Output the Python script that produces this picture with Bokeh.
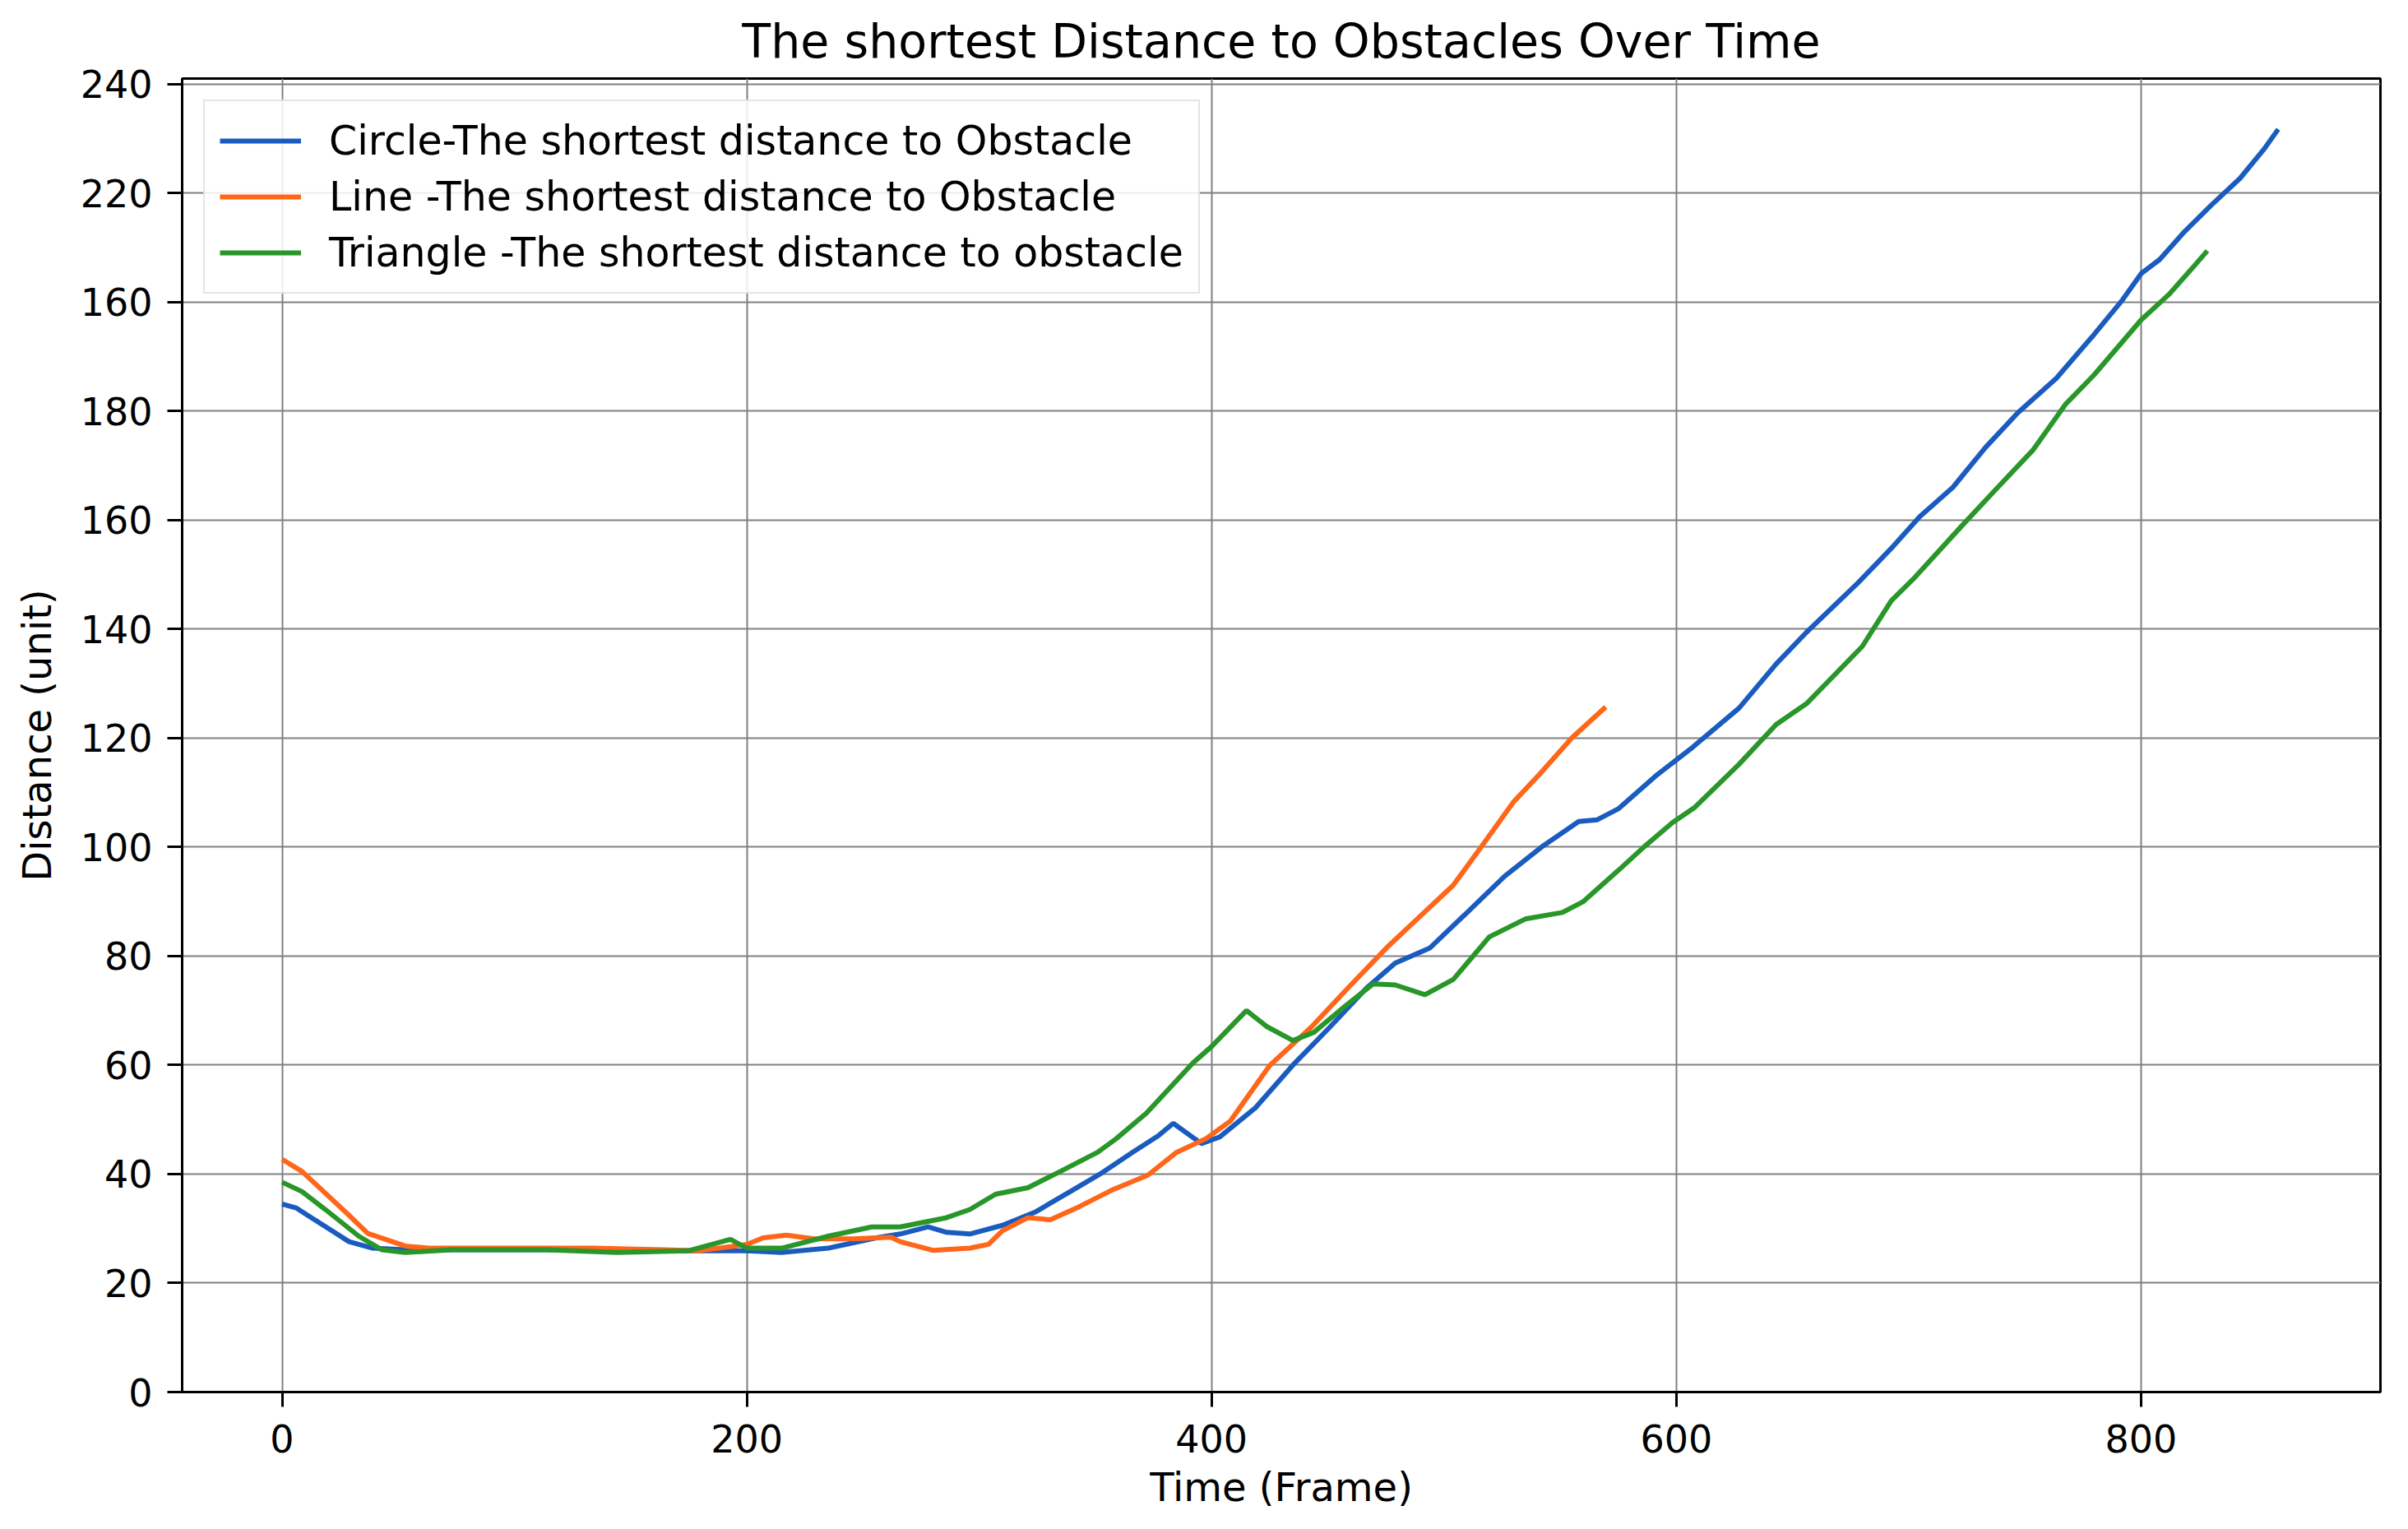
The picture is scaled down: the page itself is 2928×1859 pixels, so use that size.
from bokeh.plotting import figure
from bokeh.models import FixedTicker
from bokeh.embed import file_html
from bokeh.resources import INLINE

# ---- data ----
circle_x = [0, 6, 12.6, 20, 28.8, 39, 53, 80, 114, 150, 174.7, 200, 215, 235, 255.7, 266, 278, 286, 296, 310,
            324, 340, 352, 366, 377, 383.5, 395.6, 403.5, 419, 435, 451, 466.6, 479, 494, 510, 526, 542, 558,
            566, 575, 591, 607, 627, 643, 656, 678, 692.5, 704.7, 719, 733, 747, 763.5, 779.7, 792, 800, 808,
            818, 830.5, 842.6, 852.8, 859]
circle_y = [34.5, 33.8, 32, 30, 27.6, 26.4, 26.1, 26.1, 26.1, 26.0, 25.9, 25.9, 25.6, 26.4, 28.3, 29, 30.3, 29.3, 29, 30.6,
            33, 37, 40, 44, 47, 49.3, 45.6, 46.8, 52.2, 60, 67, 74.1, 78.7, 81.5, 88, 94.6, 100, 104.7,
            105, 107, 113, 118.3, 125.5, 133.6, 139.4, 148.4, 154.8, 160.6, 166, 173.3, 179.7, 186, 194, 200.4, 205.2, 207.8,
            212.6, 217.9, 222.7, 228, 231.7]

line_x = [0, 8.5, 18.6, 28.4, 36.9, 53, 63, 93.6, 134, 164.5, 178.7, 195, 200, 207, 217, 229, 245.6, 262, 266,
          280, 296, 304, 310, 321, 330.6, 343, 356.8, 372.6, 385, 397.6, 408, 425, 443, 458.6, 476, 488, 504,
          516, 530, 541, 555, 569.6]
line_y = [42.7, 40.5, 36.5, 32.6, 29.1, 26.8, 26.4, 26.4, 26.4, 26.1, 25.9, 26.8, 27.1, 28.3, 28.8, 28.1, 28.1, 28.4, 27.6,
          26.0, 26.4, 27.1, 29.6, 32, 31.6, 34, 37, 39.8, 44, 46.5, 49.7, 59.9, 67, 74.1, 81.8, 86.6, 93,
          100, 108.3, 113.3, 120, 125.7]

tri_x = [0, 8.5, 18.6, 33, 43, 53, 73, 114, 144, 174.7, 190.9, 193, 200, 215, 235, 253.7, 266, 286, 296, 307,
         321, 335, 351, 359, 372, 392, 400, 415, 424, 435, 444, 458, 469.6, 479, 491.8, 504, 519.5, 535, 551,
         560, 575, 586, 598.4, 608, 627, 643, 656, 680, 692.5, 702.7, 723, 737, 753.4, 767.6, 779.7, 800, 812,
         822, 828.5]
tri_y = [38.5, 36.8, 33.5, 28.6, 26.1, 25.6, 26.1, 26.1, 25.6, 25.9, 27.8, 28, 26.4, 26.4, 28.6, 30.3, 30.3, 32, 33.5, 36.3,
         37.5, 40.5, 44, 46.5, 51.2, 60.4, 63.4, 70, 67, 64.5, 66, 71, 74.9, 74.7, 72.9, 75.7, 83.5, 86.8, 88,
         90, 95.7, 100, 104.5, 107.3, 115.2, 122.5, 126.3, 136.8, 145.2, 149.5, 159, 165.4, 172.8, 181.3, 186.6, 196.7, 201.4,
         206.2, 209.4]

series_names = ["Circle-The shortest distance to Obstacle",
                "Line -The shortest distance to Obstacle",
                "Triangle -The shortest distance to obstacle"]

x_ticks = [0, 200, 400, 600, 800]
y_ticks = [0, 20, 40, 60, 80, 100, 120, 140, 160, 180, 200, 220, 240]
y_tick_labels = ["0", "20", "40", "60", "80", "100", "120", "140", "160", "180", "160", "220", "240"]

title_text = "The shortest Distance to Obstacles Over Time"
x_label = "Time (Frame)"
y_label = "Distance (unit)"

# ---- figure ----
p = figure(width=2920, height=1852, output_backend="svg", toolbar_location=None,
           x_range=(-43, 903), y_range=(0, 241),
           min_border_left=221, min_border_right=26, min_border_top=95, min_border_bottom=160)
p.background_fill_color = "white"
p.border_fill_color = "white"
p.outline_line_color = "black"
p.outline_line_width = 3

colors = ["#1a5bbf", "#ff6619", "#289628"]
for xs, ys, name, c in zip([circle_x, line_x, tri_x], [circle_y, line_y, tri_y], series_names, colors):
    p.line(xs, ys, line_color=c, line_width=6, legend_label=name)

p.title.text = title_text
p.title.align = "center"
p.title.text_font = "DejaVu Sans"
p.title.text_font_size = "57px"
p.title.text_font_style = "normal"
p.title.text_color = "black"
p.title.standoff = 25

p.xaxis.ticker = FixedTicker(ticks=x_ticks)
p.yaxis.ticker = FixedTicker(ticks=y_ticks)
p.yaxis.major_label_overrides = {v: l for v, l in zip(y_ticks, y_tick_labels)}
p.xaxis.axis_label = x_label
p.yaxis.axis_label = y_label

for ax in (p.xaxis, p.yaxis):
    ax.axis_line_color = "black"
    ax.axis_line_width = 3
    ax.major_tick_line_color = "black"
    ax.major_tick_line_width = 3
    ax.major_tick_out = 18
    ax.major_tick_in = 0
    ax.minor_tick_line_color = None
    ax.major_label_text_font = "DejaVu Sans"
    ax.major_label_text_font_size = "46px"
    ax.major_label_text_color = "black"
    ax.axis_label_text_font = "DejaVu Sans"
    ax.axis_label_text_font_size = "48px"
    ax.axis_label_text_font_style = "normal"
    ax.axis_label_text_color = "black"
p.xaxis.major_label_standoff = 21
p.xaxis.axis_label_standoff = 11
p.yaxis.major_label_standoff = 18
p.yaxis.axis_label_standoff = 22

p.grid.grid_line_color = "#808080"
p.grid.grid_line_width = 2
p.grid.grid_line_alpha = 1.0

lg = p.legend[0]
lg.location = "top_left"
lg.margin = 26
lg.padding = 18
lg.spacing = 8
lg.glyph_width = 99
lg.glyph_height = 60
lg.label_height = 60
lg.label_standoff = 34
lg.label_text_font = "DejaVu Sans"
lg.label_text_font_size = "49px"
lg.label_text_color = "black"
lg.border_line_color = "#cccccc"
lg.border_line_width = 2
lg.background_fill_color = "white"
lg.background_fill_alpha = 0.85

open("out.html", "w").write(file_html(p, INLINE))
